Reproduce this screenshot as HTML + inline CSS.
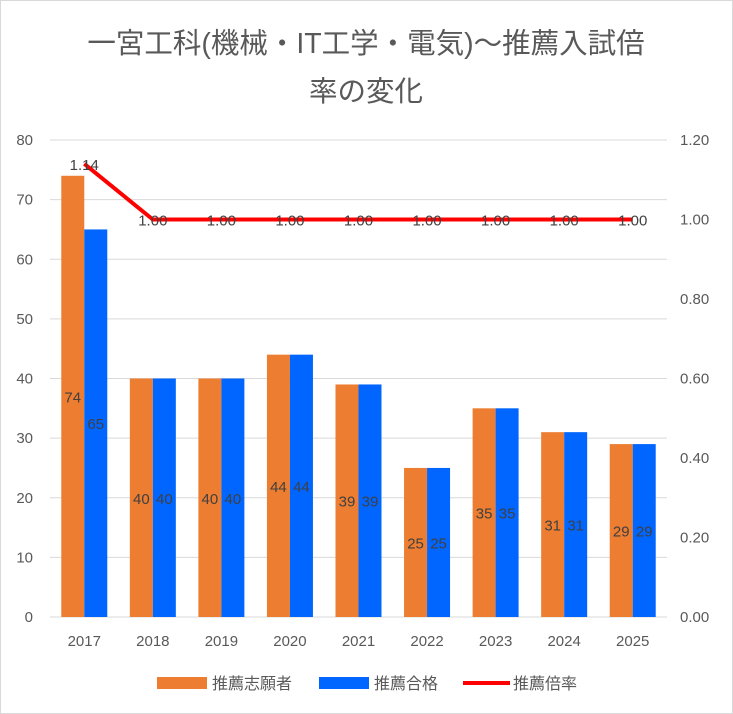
<!DOCTYPE html>
<html><head><meta charset="utf-8"><style>
body{margin:0;background:#fff;}
svg{display:block;font-family:"Liberation Sans","Noto Sans CJK JP",sans-serif;}
</style></head><body>
<svg id="chart" width="733" height="714">
<rect x="0.5" y="0.5" width="732" height="713" fill="#fff" stroke="#d9d9d9"/>
<text x="366" y="53" text-anchor="middle" font-size="28.5" fill="#595959">一宮工科(機械・IT工学・電気)～推薦入試倍</text>
<text x="366" y="101" text-anchor="middle" font-size="28.5" fill="#595959">率の変化</text>
<g id="grid"></g><g id="bars"></g><g id="line"></g><g id="labels"></g>
<g>
<rect x="157" y="677" width="50" height="12" fill="#ED7D31"/>
<text x="212" y="689" font-size="16" fill="#595959">推薦志願者</text>
<rect x="319" y="677" width="50" height="12" fill="#0066FF"/>
<text x="374" y="689" font-size="16" fill="#595959">推薦合格</text>
<line x1="463" y1="683" x2="510" y2="683" stroke="#FF0000" stroke-width="4"/>
<text x="513" y="689" font-size="16" fill="#595959">推薦倍率</text>
</g>
</svg>
<script>
const categories=["2017","2018","2019","2020","2021","2022","2023","2024","2025"];
const applicants=[74,40,40,44,39,25,35,31,29];
const passed=[65,40,40,44,39,25,35,31,29];
const ratio=[1.14,1.00,1.00,1.00,1.00,1.00,1.00,1.00,1.00];
const leftTicks=[0,10,20,30,40,50,60,70,80];
const rightTicks=["0.00","0.20","0.40","0.60","0.80","1.00","1.20"];
const NS="http://www.w3.org/2000/svg";
const L=50,R=667,T=140,B=617;
const yL=v=>B-v/80*(B-T);
const yR=v=>B-v/1.2*(B-T);
const band=(R-L)/categories.length;
const xC=i=>L+band*(i+0.5);
function mk(tag,attrs,parent,txt){const e=document.createElementNS(NS,tag);for(const k in attrs)e.setAttribute(k,attrs[k]);if(txt!==undefined)e.textContent=txt;document.getElementById(parent).appendChild(e);return e;}
leftTicks.forEach(t=>{
 const g=mk("line",{x1:L,x2:R,y1:yL(t),y2:yL(t),stroke:"#d9d9d9","stroke-width":1},"grid");
 
 
 const tx=mk("text",{x:33,y:yL(t)+5,"text-anchor":"end","font-size":15,fill:"#595959"},"grid",String(t));
 
 
});
rightTicks.forEach(t=>{
 const tx=mk("text",{x:680,y:yR(parseFloat(t))+5,"font-size":15,fill:"#595959"},"grid",t);
 
 
});
const bw=23;
categories.forEach((c,i)=>{
 const x=xC(i);
 const a=mk("rect",{x:x-bw,y:yL(applicants[i]),width:bw,height:B-yL(applicants[i]),fill:"#ED7D31"},"bars");
 
 
 const p=mk("rect",{x:x,y:yL(passed[i]),width:bw,height:B-yL(passed[i]),fill:"#0066FF"},"bars");
 
 
 const cl=mk("text",{x:x,y:646,"text-anchor":"middle","font-size":15,fill:"#595959"},"labels",c);
 
 
 const la=mk("text",{x:x-bw/2,y:(yL(applicants[i])+B)/2+6,"text-anchor":"middle","font-size":15,fill:"#404040"},"labels",String(applicants[i]));
 
 
 const lp=mk("text",{x:x+bw/2,y:(yL(passed[i])+B)/2+6,"text-anchor":"middle","font-size":15,fill:"#404040"},"labels",String(passed[i]));
 
 
 const lr=mk("text",{x:x,y:yR(ratio[i])+6,"text-anchor":"middle","font-size":15,fill:"#404040"},"labels",ratio[i].toFixed(2));
 
 
});
const pl=mk("polyline",{points:ratio.map((v,i)=>xC(i)+","+yR(v)).join(" "),fill:"none",stroke:"#FF0000","stroke-width":4,"stroke-linejoin":"round"},"line");


</script>
</body></html>
